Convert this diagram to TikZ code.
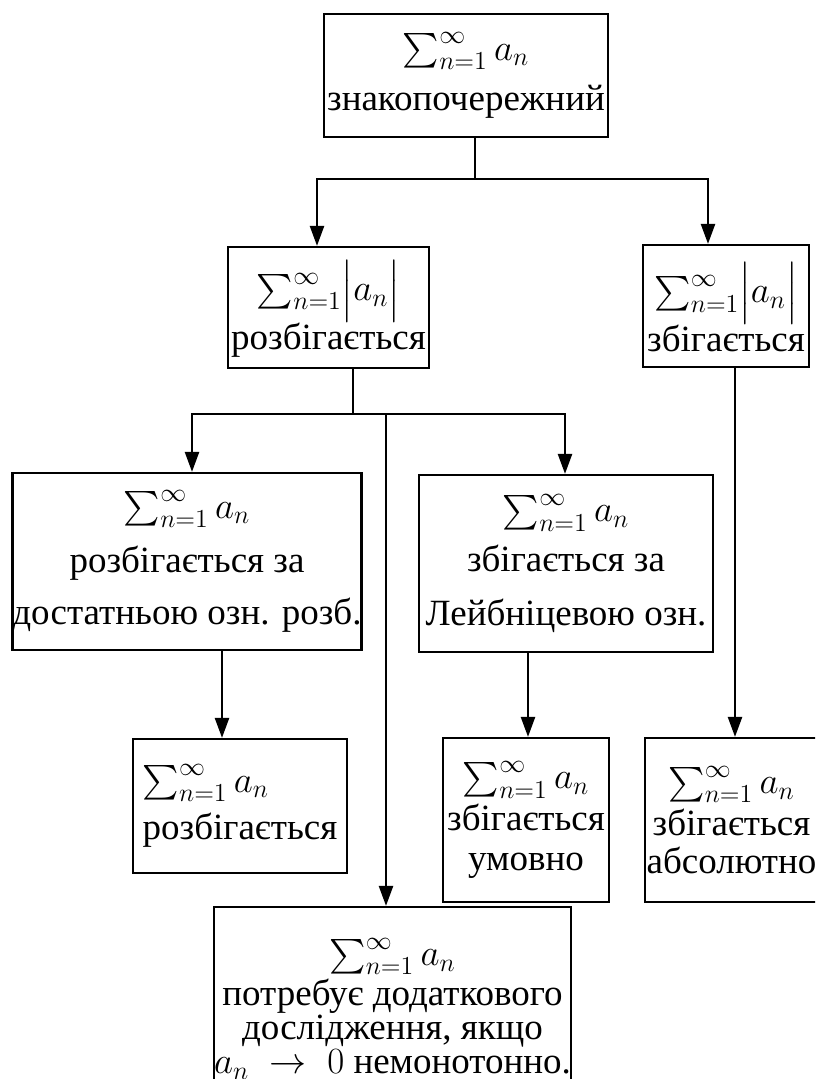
\RequirePackage{fix-cm}
\documentclass[tikz,border=0pt]{standalone}
\usepackage{amsmath}
\usepackage{fontspec}
\setmainfont{Liberation Serif}
\usetikzlibrary{arrows.meta}
\begin{document}
\begin{tikzpicture}[x=0.5pt,y=-0.5pt,
  box/.style={draw, line width=1.1pt, inner sep=0pt, align=center,
    font=\fontsize{18.5}{22}\selectfont},
  conn/.style={line width=1.2pt},
  arr/.style={line width=1.2pt, -{Triangle[length=10pt,width=7pt]}}]
\useasboundingbox (0,0) rectangle (815,1079);
\clip (0,0) rectangle (815,1079);

\node[box, minimum width=142pt, minimum height=61.5pt] (b1) at (466,75.5)
  {$\sum_{n=1}^{\infty}a_n$\\[3pt]знакопочережний};
\node[box, minimum width=100.5pt, minimum height=60.5pt] (b2) at (328.5,307.5)
  {$\sum_{n=1}^{\infty}\Bigl|a_n\Bigr|$\\[-2pt]розбігається};
\node[box, minimum width=83pt, minimum height=61pt] (b3) at (726,306)
  {$\sum_{n=1}^{\infty}\Bigl|a_n\Bigr|$\\[-2pt]збігається};
\node[box, minimum width=174pt, minimum height=88.5pt] (b4) at (187,561.5)
  {$\sum_{n=1}^{\infty}a_n$\\[5pt]розбігається за\\[4pt]достатньою озн. розб.};
\node[box, minimum width=147pt, minimum height=88.5pt] (b5) at (566,563.5)
  {$\sum_{n=1}^{\infty}a_n$\\[3pt]збігається за\\[5pt]Лейбніцевою озн.};
\node[box, align=left, minimum width=107pt, minimum height=67pt] (b6) at (240,806)
  {$\sum_{n=1}^{\infty}a_n$\\[1.5pt]розбігається};
\node[box, minimum width=83pt, minimum height=82pt,
  font=\fontsize{18.5}{19}\selectfont] (b7) at (526,820)
  {$\sum_{n=1}^{\infty}a_n$\\[2pt]збігається\\[1pt]умовно};
\node[box, minimum width=86.5pt, minimum height=82pt,
  font=\fontsize{18.5}{19}\selectfont] (b8) at (731.5,820)
  {$\sum_{n=1}^{\infty}a_n$\\[2pt]збігається\\абсолютно};
\node[box, minimum width=174.5pt, minimum height=101.5pt,
  font=\fontsize{18.5}{17}\selectfont] (b9) at (392.5,1008.5)
  {$\sum_{n=1}^{\infty}a_n$\\[1pt]потребує додаткового\\дослідження, якщо\\$a_n\;\to\;0$ немонотонно.};

\coordinate (j1) at (475,179);
\coordinate (xl1) at (317,0);
\coordinate (xr1) at (708,0);
\draw[conn] (b1.south -| j1) -- (j1);
\draw[arr] (j1) -| (b2.north -| xl1);
\draw[arr] (j1) -| (b3.north -| xr1);

\coordinate (j2) at (353,414);
\coordinate (xl2) at (192,0);
\coordinate (xr2) at (565,0);
\coordinate (m) at (386,414);
\draw[conn] (b2.south -| j2) -- (j2);
\draw[arr] (j2) -| (b4.north -| xl2);
\draw[arr] (j2) -| (b5.north -| xr2);
\draw[arr] (m) -- (b9.north -| m);

\coordinate (x3) at (735,0);
\coordinate (x4) at (222,0);
\coordinate (x5) at (528,0);
\draw[arr] (b3.south -| x3) -- (b8.north -| x3);
\draw[arr] (b4.south -| x4) -- (b6.north -| x4);
\draw[arr] (b5.south -| x5) -- (b7.north -| x5);
\end{tikzpicture}
\end{document}
